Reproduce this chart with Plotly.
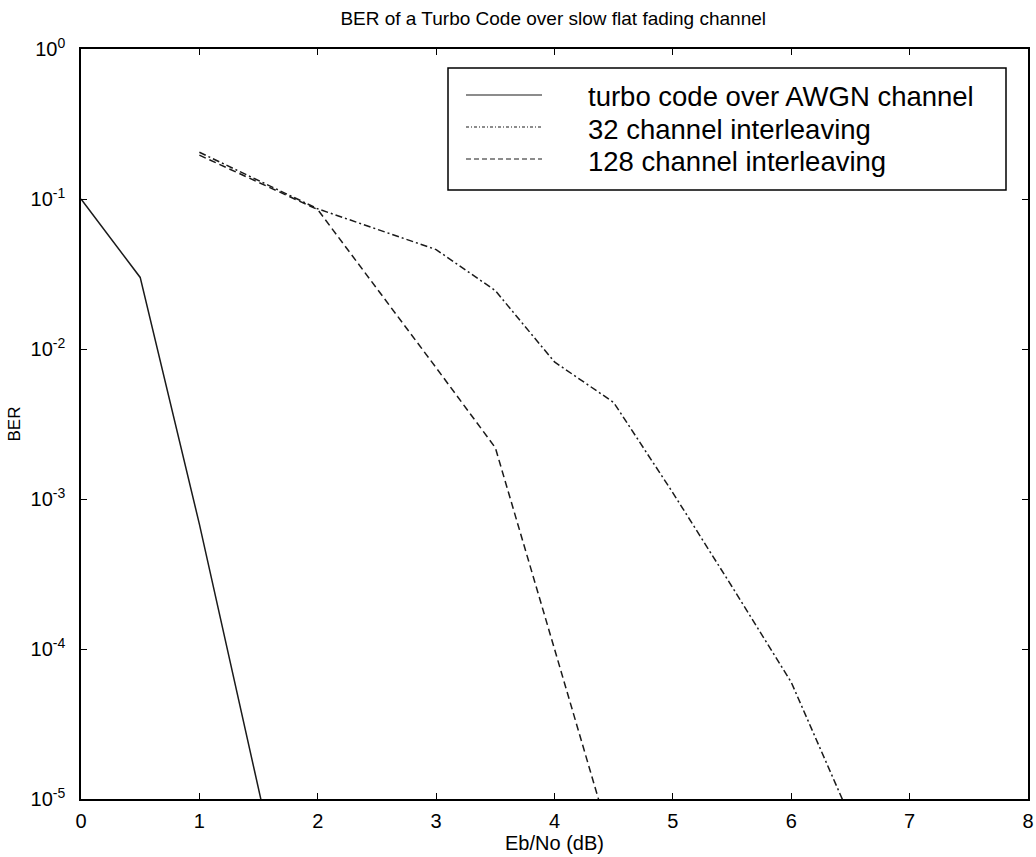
import plotly.graph_objects as go

# Data
ebno_awgn = [0.0, 0.5, 1.0, 1.5, 2.0]
ber_awgn = [0.1, 0.030, 6.8e-4, 1.2e-5, 2e-7]

ebno_32 = [1.0, 2.0, 3.0, 3.5, 4.0, 4.5, 5.0, 5.5, 6.0, 6.5]
ber_32 = [0.205, 0.086, 0.046, 0.0245, 0.0082, 0.0044, 1.1e-3, 2.6e-4, 6e-5, 7.5e-6]

ebno_128 = [1.0, 2.0, 3.0, 3.5, 4.0, 4.5]
ber_128 = [0.196, 0.085, 0.0075, 2.2e-3, 1.0e-4, 4.5e-6]

series_names = ["turbo code over AWGN channel", "32 channel interleaving", "128 channel interleaving"]

x_ticks = [0, 1, 2, 3, 4, 5, 6, 7, 8]
y_tickvals = [1e-5, 1e-4, 1e-3, 1e-2, 1e-1, 1]
y_ticktext = ["10<sup>-5</sup>", "10<sup>-4</sup>", "10<sup>-3</sup>", "10<sup>-2</sup>", "10<sup>-1</sup>", "10<sup>0</sup>"]

FONT = "Arial, Liberation Sans, Helvetica, sans-serif"
col = "#1a1a1a"
dashes = ["solid", "7px,3px,2px,3px", "7px,4px"]
legend_dashes = ["solid", "3px,2px,1px,2px", "5px,3px"]

fig = go.Figure()
for xs, ys, name, dash in zip([ebno_awgn, ebno_32, ebno_128], [ber_awgn, ber_32, ber_128], series_names, dashes):
    fig.add_trace(go.Scatter(x=xs, y=ys, mode="lines", name=name, showlegend=False,
                             line=dict(color=col, width=1.5, dash=dash)))

# plot-area geometry in pixels (for converting legend decoration to paper coords)
W, H = 1036, 857
L, R, T, B = 81, 8, 49, 58
pw, ph = W - L - R, H - T - B
def px(x):
    return (x - L) / pw
def py(y):
    return (H - B - y) / ph

axis_common = dict(showgrid=False, zeroline=False, showline=True, linecolor="black", linewidth=1.5,
                   mirror="ticks", ticks="inside", ticklen=6, tickcolor="black", tickwidth=1,
                   automargin=False,
                   tickfont=dict(family=FONT, size=20, color="black"))

# Custom legend box (decoration)
shapes = [dict(type="rect", xref="paper", yref="paper", x0=px(448), x1=px(1006), y0=py(190), y1=py(68),
               line=dict(color="black", width=1.5), fillcolor="white", layer="above")]
annotations = []
row_y = [97, 129, 161]
for ry, name, ldash in zip(row_y, series_names, legend_dashes):
    shapes.append(dict(type="line", xref="paper", yref="paper", x0=px(466), x1=px(542), y0=py(ry - 2), y1=py(ry - 2),
                       line=dict(color=col, width=1.2, dash=ldash), layer="above"))
    annotations.append(dict(text=name, xref="paper", yref="paper", x=px(586), y=py(ry), xanchor="left",
                            yanchor="middle", showarrow=False, font=dict(family=FONT, size=27.5, color="black")))

fig.update_layout(
    width=W, height=H,
    margin=dict(l=L, r=R, t=T, b=B),
    paper_bgcolor="white", plot_bgcolor="white",
    title=dict(text="BER of a Turbo Code over slow flat fading channel", x=0.534, xanchor="center",
               y=1 - 18 / H, yanchor="middle",
               font=dict(family=FONT, size=19, color="black")),
    xaxis=dict(range=[0, 8], tickvals=x_ticks, ticktext=[str(v) for v in x_ticks], ticklabelstandoff=3,
               title=dict(text="Eb/No (dB)", standoff=2, font=dict(family=FONT, size=20, color="black")),
               **axis_common),
    yaxis=dict(type="log", range=[-5, 0], tickvals=y_tickvals, ticktext=y_ticktext, ticklabelstandoff=10,
               title=dict(text="BER", standoff=6, font=dict(family=FONT, size=17, color="black")),
               **axis_common),
    shapes=shapes,
    annotations=annotations,
    showlegend=False,
)

fig.write_html("out.html")
